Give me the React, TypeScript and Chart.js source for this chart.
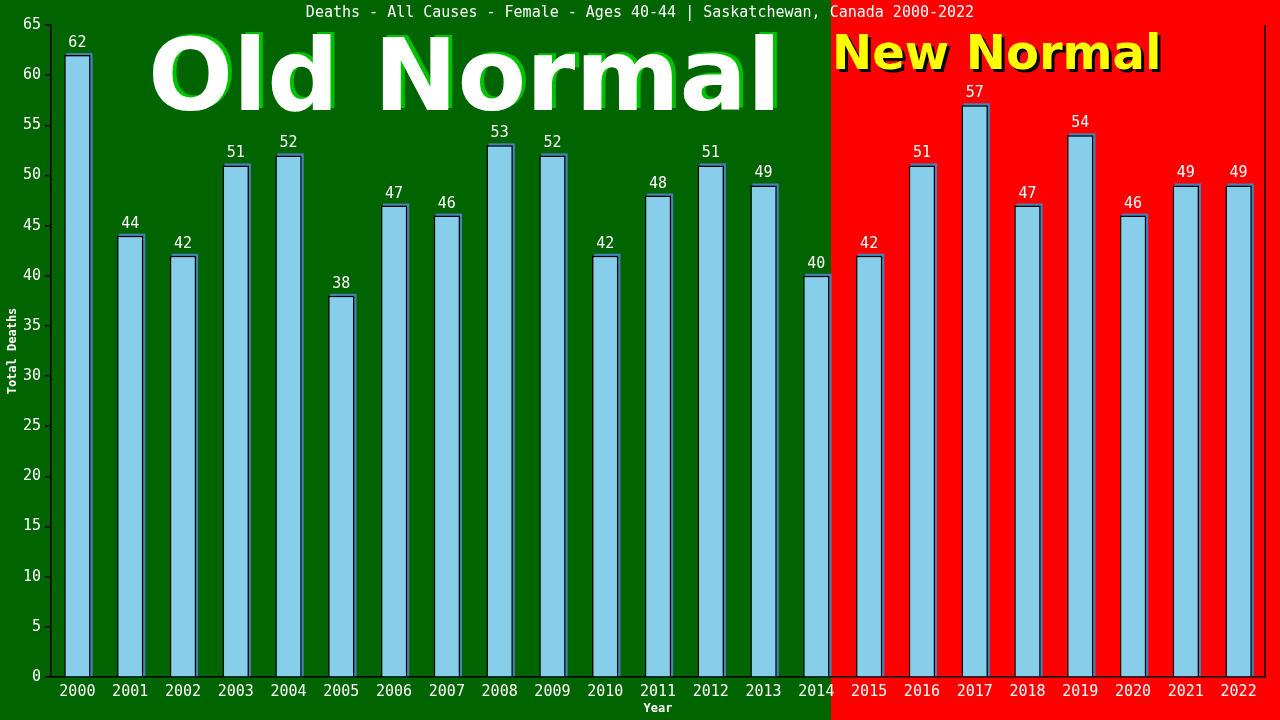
import React, { useEffect, useRef } from "react";
import { Chart, registerables } from "chart.js";

Chart.register(...registerables);

const years = ["2000","2001","2002","2003","2004","2005","2006","2007","2008","2009","2010","2011","2012","2013","2014","2015","2016","2017","2018","2019","2020","2021","2022"];
const deaths = [62,44,42,51,52,38,47,46,53,52,42,48,51,49,40,42,51,57,47,54,46,49,49];
const titleText = "Deaths - All Causes - Female - Ages 40-44 | Saskatchewan, Canada 2000-2022";
const oldNormalLabel = "Old Normal";
const newNormalLabel = "New Normal";
const lastOldNormalIndex = 14;
const yAxisTitle = "Total Deaths";
const xAxisTitle = "Year";

const MONO = "'DejaVu Sans Mono', monospace";
const BOLD = "'DejaVu Sans', Verdana, sans-serif";

function splitX(chart: any) {
  const meta = chart.getDatasetMeta(0);
  const bar = meta.data[lastOldNormalIndex];
  return Math.round(bar.x + bar.width / 2 + 1);
}

const decorPlugin = {
  id: "decor",
  beforeDraw(chart: any) {
    const { ctx, width, height } = chart;
    const split = splitX(chart);
    ctx.save();
    ctx.fillStyle = "#006400";
    ctx.fillRect(0, 0, width, height);
    ctx.fillStyle = "#ff0000";
    ctx.fillRect(split, 0, width - split, height);
    ctx.restore();
  },
  beforeDatasetsDraw(chart: any) {
    const { ctx, width, chartArea } = chart;
    const split = splitX(chart);
    ctx.save();
    // title
    ctx.font = `15px ${MONO}`;
    ctx.fillStyle = "#ffffff";
    ctx.textAlign = "center";
    ctx.textBaseline = "middle";
    ctx.fillText(titleText, width / 2, 13);
    // Old Normal
    ctx.font = `bold 100px ${BOLD}`;
    ctx.textAlign = "left";
    ctx.textBaseline = "alphabetic";
    ctx.fillStyle = "#00c000";
    ctx.fillText(oldNormalLabel, 152, 108);
    ctx.fillStyle = "#ffffff";
    ctx.fillText(oldNormalLabel, 148, 110);
    // New Normal
    ctx.font = `bold 48px ${BOLD}`;
    ctx.fillStyle = "#000000";
    ctx.fillText(newNormalLabel, split + 4, 72);
    ctx.fillStyle = "#ffff00";
    ctx.fillText(newNormalLabel, split + 1, 69);
    // axis titles
    ctx.font = `bold 12px ${MONO}`;
    ctx.fillStyle = "#ffffff";
    ctx.textAlign = "center";
    ctx.textBaseline = "middle";
    ctx.fillText(xAxisTitle, (chartArea.left + chartArea.right) / 2, 709);
    ctx.translate(13, (chartArea.top + chartArea.bottom) / 2);
    ctx.rotate(-Math.PI / 2);
    ctx.fillText(yAxisTitle, 0, 0);
    ctx.restore();
    // bar shadows
    const meta = chart.getDatasetMeta(0);
    ctx.save();
    ctx.fillStyle = "#4682b4";
    meta.data.forEach((bar: any) => {
      const w = bar.width;
      ctx.fillRect(bar.x - w / 2 + 2, bar.y - 2, w, bar.base - bar.y + 2);
    });
    ctx.restore();
  },
  afterDatasetsDraw(chart: any) {
    const { ctx, chartArea } = chart;
    const meta = chart.getDatasetMeta(0);
    ctx.save();
    ctx.font = `15px ${MONO}`;
    ctx.fillStyle = "#ffffff";
    ctx.textAlign = "center";
    ctx.textBaseline = "alphabetic";
    meta.data.forEach((bar: any, i: number) => {
      ctx.fillText(String(deaths[i]), bar.x, bar.y - 8);
    });
    ctx.strokeStyle = "#000000";
    ctx.lineWidth = 1.5;
    ctx.beginPath();
    ctx.moveTo(chartArea.right, chartArea.top);
    ctx.lineTo(chartArea.right, chartArea.bottom);
    ctx.stroke();
    ctx.restore();
  },
};

export default function App() {
  const ref = useRef<HTMLCanvasElement>(null);
  useEffect(() => {
    if (!ref.current) return;
    const chart = new Chart(ref.current, {
      type: "bar",
      data: {
        labels: years,
        datasets: [
          {
            data: deaths,
            backgroundColor: "#87ceeb",
            borderColor: "#000000",
            borderWidth: 1.5,
            borderSkipped: "bottom",
            barPercentage: 0.5,
            categoryPercentage: 1,
          },
        ],
      },
      options: {
        animation: false,
        responsive: false,
        maintainAspectRatio: false,
        layout: { padding: { top: 25, right: 15, left: 0, bottom: 0 } },
        plugins: { legend: { display: false }, tooltip: { enabled: false }, title: { display: false } },
        scales: {
          x: {
            afterFit(scale: any) { scale.height = 43; },
            grid: { display: false },
            border: { display: true, color: "#000000", width: 1.5 },
            ticks: { color: "#ffffff", font: { family: MONO, size: 15 }, padding: -2, maxRotation: 0, autoSkip: false },
          },
          y: {
            min: 0,
            max: 65,
            afterFit(scale: any) { scale.width = 51; },
            grid: { display: true, drawOnChartArea: false, drawTicks: true, tickLength: 6, color: "#000000", lineWidth: 1.5 },
            border: { display: true, color: "#000000", width: 1.5 },
            ticks: { stepSize: 5, color: "#ffffff", font: { family: MONO, size: 15 }, padding: 4 },
          },
        },
      },
      plugins: [decorPlugin],
    });
    return () => chart.destroy();
  }, []);
  return (
    <div style={{ position: "fixed", left: 0, top: 0, width: 1280, height: 720 }}>
      <canvas ref={ref} width={1280} height={720} style={{ width: 1280, height: 720 }} />
    </div>
  );
}
